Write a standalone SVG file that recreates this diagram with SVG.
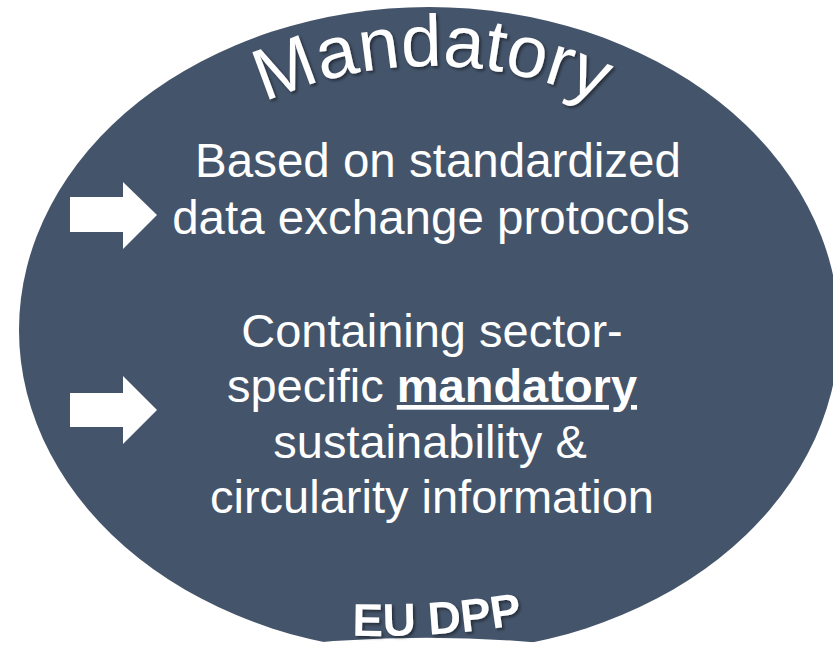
<svg xmlns="http://www.w3.org/2000/svg" width="833" height="651" viewBox="0 0 833 651">
  <defs>
    <style>
      .body { font-family: "Liberation Sans", Arial, sans-serif; fill: #FFFFFF; text-anchor: middle; }
      .b1 { font-size: 47.5px; }
      .b2 { font-size: 47px; }
      .title { font-family: "Liberation Sans", Arial, sans-serif; fill: #FFFFFF; font-size: 73px; }
      .foot { font-family: "Liberation Sans", Arial, sans-serif; fill: #FFFFFF; font-size: 46px; font-weight: bold; }
      .arrow { fill: #FFFFFF; }
    </style>
    <filter id="txtShadow" x="-10%" y="-20%" width="120%" height="150%">
      <feDropShadow dx="2" dy="2" stdDeviation="1.5" flood-color="#000000" flood-opacity="0.45"/>
    </filter>
    <clipPath id="bottomCut">
      <path d="M -10 -10 H 843 V 651 H 610 Q 430 625 250 650 H -10 Z"/>
    </clipPath>
    <path id="archTop" d="M 85.6 266 A 400 400 0 0 1 778.4 266"/>
    <path id="archBottom" d="M 300 632.3 A 870 870 0 0 0 600 607.7"/>
  </defs>

  <rect x="0" y="0" width="833" height="651" fill="#FFFFFF"/>

  <g id="eu-dpp-circle">
    <ellipse cx="429" cy="330" rx="410" ry="323" fill="#44546A" clip-path="url(#bottomCut)"/>
  </g>

  <g id="title-mandatory" filter="url(#txtShadow)">
    <text class="title" text-anchor="middle"><textPath href="#archTop" startOffset="50%">Mandatory</textPath></text>
  </g>

  <g id="arrows">
    <polygon id="arrow-1" class="arrow" points="70,197 123,197 123,182 157,215 123,249 123,232 70,232"/>
    <polygon id="arrow-2" class="arrow" points="70,393 123,393 123,376 157,410 123,444 123,427 70,427"/>
  </g>

  <g id="point-protocols">
    <text class="body b1" x="438" y="176.5">Based on standardized</text>
    <text class="body b1" x="431" y="234">data exchange protocols</text>
  </g>

  <g id="point-information">
    <text class="body b2" x="432" y="347">Containing sector-</text>
    <text class="body b2" x="432" y="402">specific <tspan font-weight="bold" text-decoration="underline">mandatory</tspan></text>
    <text class="body b2" x="430" y="458">sustainability &amp;</text>
    <text class="body b2" x="432" y="513">circularity information</text>
  </g>

  <g id="label-eu-dpp" filter="url(#txtShadow)">
    <text class="foot" text-anchor="middle"><textPath href="#archBottom" startOffset="138">EU DPP</textPath></text>
  </g>
</svg>
